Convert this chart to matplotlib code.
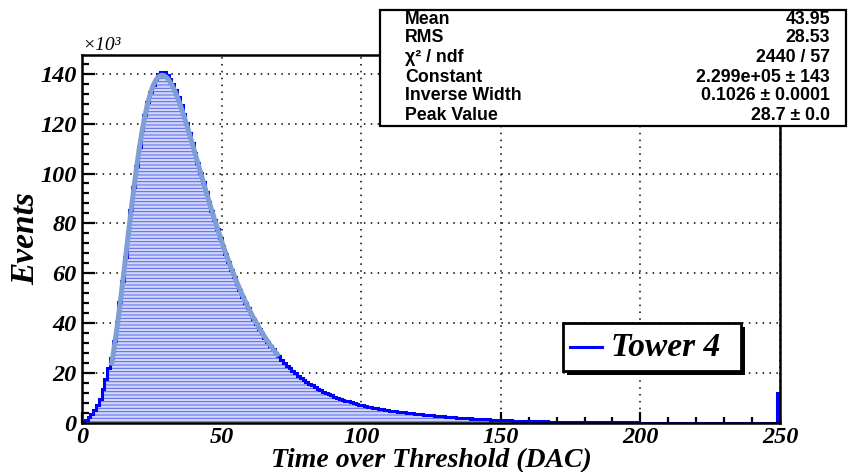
import numpy as np
import matplotlib
matplotlib.use("Agg")
import matplotlib.pyplot as plt
from matplotlib.patches import Rectangle
from matplotlib.lines import Line2D

# ---------------- data (thousands of events) ----------------
bin_edges = np.arange(0, 251, 1)
events_k = [
    0.6, 1.3, 2.3, 3.6, 5.2, 7.3, 9.8, 13.5, 17.5, 22.0,
    26.0, 33.0, 40.5, 48.5, 57.0, 66.5, 76.5, 85.5, 94.5, 103.0,
    110.5, 117.5, 123.5, 128.5, 132.5, 135.5, 138.0, 139.8, 140.8, 140.6,
    139.6, 138.0, 136.0, 133.6, 130.8, 127.6, 124.0, 120.3, 116.4, 112.4,
    108.4, 104.4, 100.4, 96.4, 92.6, 88.7, 85.0, 81.3, 77.7, 74.2,
    70.8, 67.6, 64.5, 61.5, 58.6, 55.8, 53.2, 50.6, 48.2, 45.9,
    43.7, 41.6, 39.6, 37.7, 35.9, 34.2, 32.5, 31.0, 29.5, 28.1,
    26.7, 25.4, 24.2, 23.0, 21.9, 20.9, 19.9, 19.0, 18.1, 17.3,
    16.5, 15.8, 15.1, 14.4, 13.8, 13.2, 12.6, 12.1, 11.6, 11.1,
    10.6, 10.2, 9.8, 9.4, 9.0, 8.7, 8.3, 8.0, 7.7, 7.4,
    7.1, 6.9, 6.6, 6.4, 6.2, 6.0, 5.8, 5.6, 5.4, 5.2,
    5.0, 4.9, 4.7, 4.6, 4.4, 4.3, 4.1, 4.0, 3.9, 3.7,
    3.6, 3.5, 3.4, 3.3, 3.2, 3.1, 3.0, 2.9, 2.8, 2.7,
    2.6, 2.5, 2.4, 2.3, 2.2, 2.1, 2.0, 1.95, 1.9, 1.8,
    1.75, 1.7, 1.6, 1.55, 1.5, 1.45, 1.4, 1.35, 1.3, 1.25,
    1.2, 1.15, 1.1, 1.05, 1.0, 0.95, 0.9, 0.88, 0.85, 0.8,
    0.78, 0.75, 0.72, 0.7, 0.68, 0.65, 0.62, 0.6, 0.58, 0.56,
    0.54, 0.52, 0.5, 0.48, 0.46, 0.44, 0.42, 0.4, 0.39, 0.38,
    0.37, 0.36, 0.35, 0.34, 0.33, 0.32, 0.31, 0.3, 0.29, 0.28,
    0.27, 0.26, 0.25, 0.25, 0.24, 0.23, 0.22, 0.22, 0.21, 0.2,
    0.2, 0.19, 0.19, 0.18, 0.18, 0.17, 0.17, 0.16, 0.16, 0.15,
    0.15, 0.15, 0.14, 0.14, 0.14, 0.13, 0.13, 0.13, 0.12, 0.12,
    0.12, 0.12, 0.11, 0.11, 0.11, 0.11, 0.1, 0.1, 0.1, 0.1,
    0.1, 0.1, 0.09, 0.09, 0.09, 0.09, 0.09, 0.09, 0.08, 0.08,
    0.08, 0.08, 0.08, 0.08, 0.08, 0.07, 0.07, 0.07, 0.07, 12.0,
]

fit_x = np.arange(10.5, 71.0, 1.0)
fit_k = [
    23.0, 30.0, 37.8, 46.5, 55.7, 65.2, 74.9, 84.3, 93.4, 102.0,
    109.8, 116.8, 122.9, 128.0, 132.1, 135.3, 137.5, 138.9, 139.4, 139.2,
    138.3, 136.8, 134.8, 132.4, 129.6, 126.5, 123.1, 119.5, 115.8, 112.0,
    108.1, 104.2, 100.3, 96.4, 92.6, 88.8, 85.1, 81.5, 78.0, 74.5,
    71.2, 68.0, 64.9, 61.9, 59.1, 56.3, 53.7, 51.1, 48.7, 46.4,
    44.1, 42.0, 40.0, 38.0, 36.2, 34.4, 32.7, 31.1, 29.6, 28.1,
    26.7,
]

x_ticks = [0, 50, 100, 150, 200, 250]
y_ticks = [0, 20, 40, 60, 80, 100, 120, 140]

stats_labels = ["Mean", "RMS", "\u03c7\u00b2 / ndf", "Constant", "Inverse Width", "Peak Value"]
stats_values = ["43.95", "28.53", "2440 / 57", "2.299e+05 \u00b1 143",
                "0.1026 \u00b1 0.0001", "28.7 \u00b1 0.0"]
legend_label = "Tower 4"

# ---------------- figure ----------------
plt.rcParams["hatch.linewidth"] = 0.7
W, H = 852, 472
fig = plt.figure(figsize=(W / 100, H / 100), dpi=100)
fig.patch.set_facecolor("white")

def fx(px):
    return px / W

def fy(py):
    return 1 - py / H

ax = fig.add_axes([fx(82), fy(423), fx(780) - fx(82), fy(55) - fy(423)])
ax.set_xlim(0, 250)
ax.set_ylim(0, 147.5)

serif_bi = dict(family="Liberation Serif", weight="bold", style="italic")

# grid
ax.set_xticks(x_ticks)
ax.set_yticks(y_ticks)
ax.grid(True, color="black", linestyle=(0, (1, 3.5)), linewidth=1.1, zorder=0)
ax.set_axisbelow(True)

# histogram
ax.stairs(events_k, bin_edges, fill=True, facecolor="#d2d6f9", edgecolor="#5566f0",
          hatch="-----", linewidth=0, zorder=2)
ax.stairs(events_k, bin_edges, fill=False, color="#0000ff", linewidth=2.2, zorder=3)
# fit
ax.plot(fit_x, fit_k, color="#7f9ed6", linewidth=3.6, solid_capstyle="butt", zorder=4)

# ticks
ax.set_xticks(np.arange(0, 251, 10), minor=True)
ax.set_yticks(np.arange(0, 148, 4), minor=True)
ax.tick_params(axis="both", which="both", direction="in", top=False, right=False,
               width=1.6, color="black")
ax.tick_params(axis="y", which="major", length=9, pad=4)
ax.tick_params(axis="y", which="minor", length=5)
ax.tick_params(axis="x", which="major", length=8, pad=3)
ax.tick_params(axis="x", which="minor", length=4.5)
ax.set_xticklabels([str(v) for v in x_ticks], fontsize=17.5, **serif_bi)
ax.set_yticklabels([str(v) for v in y_ticks], fontsize=17.5, **serif_bi)
for sp in ax.spines.values():
    sp.set_linewidth(1.8)
    sp.set_zorder(6)

ax.set_xlabel("Time over Threshold (DAC)", fontsize=20, labelpad=0, **serif_bi)
ax.set_ylabel("Events", fontsize=24, **serif_bi)
ax.yaxis.set_label_coords((41 - 82) / 698, 0.5)

fig.text(fx(82), fy(46), "\u00d710\u00b3", fontsize=14, family="Liberation Serif",
         style="italic", ha="left", va="center")

# stats box
fig.patches.append(Rectangle((fx(380), fy(126)), fx(846) - fx(380), fy(10) - fy(126),
                             transform=fig.transFigure, facecolor="white",
                             edgecolor="black", linewidth=1.6, zorder=10))
rows_y = [19, 38, 57, 77, 96, 115]
for lab, val, yy in zip(stats_labels, stats_values, rows_y):
    fig.text(fx(405), fy(yy), lab, fontsize=12.8, family="Liberation Sans", weight="bold",
             ha="left", va="center", zorder=11)
    fig.text(fx(830), fy(yy), val, fontsize=12.8, family="Liberation Sans", weight="bold",
             ha="right", va="center", zorder=11)

# legend box with shadow
fig.patches.append(Rectangle((fx(567), fy(375)), fx(745) - fx(567), fy(327) - fy(375),
                             transform=fig.transFigure, facecolor="black",
                             edgecolor="black", linewidth=0, zorder=10))
fig.patches.append(Rectangle((fx(563), fy(371)), fx(741) - fx(563), fy(323) - fy(371),
                             transform=fig.transFigure, facecolor="white",
                             edgecolor="black", linewidth=2.0, zorder=11))
fig.lines.append(Line2D([fx(570), fx(602)], [fy(347), fy(347)], transform=fig.transFigure,
                        color="#0000ff", linewidth=2.2, zorder=12))
fig.text(fx(611), fy(347), legend_label, fontsize=24, ha="left", va="center", zorder=12,
         **serif_bi)

fig.savefig("out.png", dpi=100)
